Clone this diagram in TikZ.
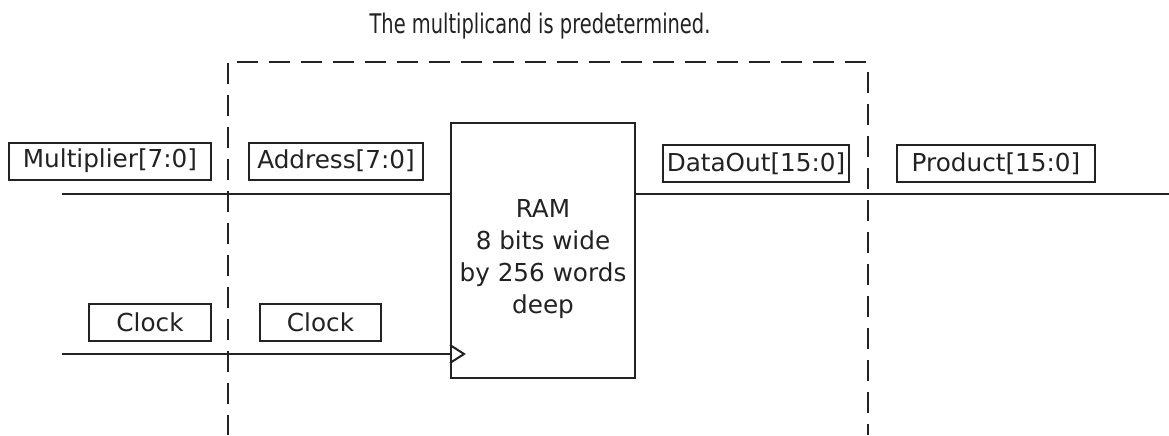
\documentclass[tikz,border=0pt]{standalone}
\usepackage{fontspec}
\setmainfont{DejaVu Sans}
\newfontfamily\titlefont[FakeStretch=0.72]{DejaVu Sans}
\usepackage{tikz}
\usetikzlibrary{calc,positioning}
\definecolor{inkc}{HTML}{222222}
\tikzset{
  wire/.style={line width=1pt,inkc},
  dashbox/.style={line width=1pt,inkc,dash pattern=on 10.5pt off 5.5pt},
  lbl/.style={draw=inkc,line width=1pt,minimum height=18.5pt,inner sep=0pt,text=inkc,font=\fontsize{12.35}{16}\selectfont},
  ram/.style={draw=inkc,line width=1pt,minimum width=92pt,minimum height=127.5pt},
  ramtext/.style={align=center,text=inkc,font=\fontsize{12.35}{16}\selectfont}
}

\begin{document}
\begin{tikzpicture}[x=0.5pt,y=-0.5pt]
\useasboundingbox (0,0) rectangle (1169,435);
\node[anchor=base,text=inkc,font=\titlefont\fontsize{13.5}{16}\selectfont] (title) at (540,33) {The multiplicand is predetermined.};
% dashed boundary
\coordinate (dtl) at (228,63); \coordinate (dbl) at (228,435);
\coordinate (dta) at (237,62); \coordinate (dtb) at (867,62);
\coordinate (dtr) at (868,72); \coordinate (dbr) at (868,435);
\draw[dashbox] (dtl) -- (dbl);
\draw[dashbox] (dta) -- (dtb);
\draw[dashbox] (dtr) -- (dbr);
% ram block
\node[ram] (mem) at (543,250.5) {};
\node[ramtext] (memtxt) at ([yshift=-4.5pt]mem.center) {RAM\\8 bits wide\\by 256 words\\deep};
\coordinate (inA) at (62,194);
\coordinate (inC) at (62,354);
\coordinate (outP) at (1169,194);
\draw[wire] (inA) -- (mem.west |- inA);
\draw[wire] (inC) -- (mem.west |- inC);
\draw[wire] ([yshift=4.5pt]mem.west |- inC) -- ++(7pt,-4.5pt) -- ++(-7pt,-4.5pt);
\draw[wire] (mem.east |- outP) -- (outP);
% signal names
\node[lbl,minimum width=101pt] (mul) at (110,161) {Multiplier[7:0]};
\node[lbl,minimum width=87pt] (adr) at (336,161) {Address[7:0]};
\node[lbl,minimum width=61pt] (clka) at (150,322.5) {Clock};
\node[lbl,minimum width=60.5pt] (clkb) at (320.5,322.5) {Clock};
\node[lbl,minimum width=93pt] (dout) at (756,163.5) {DataOut[15:0]};
\node[lbl,minimum width=99pt] (prod) at (996,163.5) {Product[15:0]};
\end{tikzpicture}
\end{document}
